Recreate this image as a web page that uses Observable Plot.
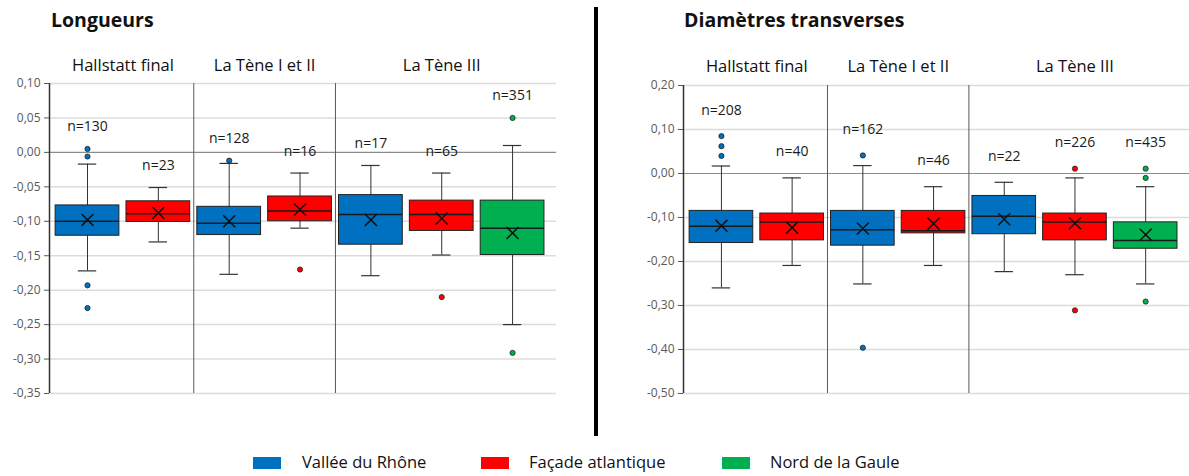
<!DOCTYPE html>
<html>
<head>
<meta charset="utf-8">
<script src="https://cdn.jsdelivr.net/npm/d3@7"></script>
<script src="https://cdn.jsdelivr.net/npm/@observablehq/plot@0.6"></script>
<style>
  html, body { margin: 0; padding: 0; background: #fff; }
  #page { position: relative; width: 1189px; height: 476px; font-family: "Open Sans", sans-serif; color: #111; overflow: hidden; }
  .panel { position: absolute; top: 0; }
  .title { position: absolute; font-weight: bold; font-size: 19.5px; line-height: 1; white-space: nowrap; }
  .divider { position: absolute; left: 594px; top: 7px; width: 3.5px; height: 429px; background: #000; }
  .sw { position: absolute; width: 28px; height: 12px; }
  .lt { position: absolute; font-size: 16.5px; line-height: 1; white-space: nowrap; }
</style>
</head>
<body>
<div id="page">
  <div class="title" style="left:51px; top:10px;">Longueurs</div>
  <div class="title" style="left:684px; top:10px;">Diamètres transverses</div>
  <div class="divider"></div>
  <div id="left" class="panel" style="left:0px;"></div>
  <div id="right" class="panel" style="left:600px;"></div>
  <div id="legend"></div>
</div>
<script>
// ---- shared categories ----
const groups = ["Hallstatt final", "La Tène I et II", "La Tène III"];
const regions = ["Vallée du Rhône", "Façade atlantique", "Nord de la Gaule"];
const regionColors = ["#0070C0", "#FF0000", "#00B050"];

// slot layout: which group / region each box belongs to
const slotGroup = [0, 0, 1, 1, 2, 2, 2];
const slotRegion = [0, 1, 0, 1, 0, 1, 2];

// ---- Longueurs ----
const lonTicks = [0.10, 0.05, 0.00, -0.05, -0.10, -0.15, -0.20, -0.25, -0.30, -0.35];
const lonN = [130, 23, 128, 16, 17, 65, 351];
const lonQ3 = [-0.077, -0.071, -0.079, -0.064, -0.062, -0.070, -0.070];
const lonQ1 = [-0.121, -0.101, -0.120, -0.100, -0.134, -0.114, -0.149];
const lonMedian = [-0.100, -0.089, -0.103, -0.085, -0.090, -0.090, -0.110];
const lonMean = [-0.098, -0.088, -0.100, -0.083, -0.098, -0.096, -0.117];
const lonHigh = [-0.017, -0.051, -0.016, -0.030, -0.019, -0.030, 0.010];
const lonLow = [-0.172, -0.130, -0.177, -0.110, -0.179, -0.149, -0.250];
const lonOutliers = [[0.005, -0.006, -0.193, -0.226], [], [-0.012], [-0.170], [], [-0.210], [0.050, -0.291]];

// ---- Diamètres transverses ----
const diaTicks = [0.20, 0.10, 0.00, -0.10, -0.20, -0.30, -0.40, -0.50];
const diaN = [208, 40, 162, 46, 22, 226, 435];
const diaQ3 = [-0.085, -0.091, -0.085, -0.085, -0.051, -0.091, -0.111];
const diaQ1 = [-0.158, -0.152, -0.164, -0.136, -0.138, -0.152, -0.171];
const diaMedian = [-0.120, -0.110, -0.128, -0.130, -0.097, -0.110, -0.152];
const diaMean = [-0.119, -0.123, -0.125, -0.114, -0.104, -0.113, -0.139];
const diaHigh = [0.017, -0.010, 0.018, -0.030, -0.020, -0.010, -0.030];
const diaLow = [-0.260, -0.209, -0.251, -0.209, -0.223, -0.230, -0.251];
const diaOutliers = [[0.085, 0.062, 0.040], [], [0.041, -0.396], [], [], [0.011, -0.311], [0.011, -0.010, -0.291]];

const fmt = d => (Math.abs(d) < 1e-9 ? 0 : d).toFixed(2).replace(".", ",");

function buildPanel(cfg) {
  const rows = slotGroup.map((g, i) => ({
    slot: i,
    group: groups[g],
    region: regions[slotRegion[i]],
    n: cfg.n[i],
    q1: cfg.q1[i], q3: cfg.q3[i], med: cfg.med[i], mean: cfg.mean[i],
    lo: cfg.lo[i], hi: cfg.hi[i],
    top: Math.max(cfg.hi[i], ...cfg.out[i])
  }));
  const outRows = rows.flatMap((r, i) => cfg.out[i].map(v => ({slot: r.slot, region: r.region, v})));
  const groupRows = groups.map(g => {
    const slots = rows.filter(r => r.group === g).map(r => r.slot + 0.5);
    return {label: g, x: d3.mean(slots)};
  });
  const seps = d3.range(1, slotGroup.length).filter(i => slotGroup[i] !== slotGroup[i - 1]);
  const bw = 0.45, cap = 0.13;
  const domain = [d3.min(cfg.ticks), d3.max(cfg.ticks)];
  return Plot.plot({
    width: cfg.width,
    height: 400,
    marginTop: cfg.top,
    marginBottom: 400 - cfg.bottom,
    marginLeft: cfg.left,
    marginRight: cfg.width - cfg.right,
    style: {fontFamily: "Open Sans", fontSize: "12px", color: "#595959", background: "transparent"},
    x: {domain: [-0.0365, 7.12], axis: null},
    y: {domain, ticks: cfg.ticks, tickFormat: fmt, tickSize: 5, label: null},
    color: {domain: regions, range: regionColors},
    marks: [
      Plot.ruleY(cfg.ticks.filter(t => t !== 0), {stroke: "#dcdcdc", strokeWidth: 1.5}),
      Plot.ruleY([0], {stroke: "#8c8c8c", strokeWidth: 1.2}),
      Plot.ruleX(seps, {stroke: "#5a5a5a", strokeWidth: 1}),
      Plot.ruleX([-0.0365], {stroke: "#333", strokeWidth: 1.5}),
      Plot.ruleX(rows, {x: d => d.slot + 0.5, y1: "lo", y2: "hi", stroke: "#333", strokeWidth: 1}),
      Plot.ruleY(rows, {y: "hi", x1: d => d.slot + 0.5 - cap, x2: d => d.slot + 0.5 + cap, stroke: "#333", strokeWidth: 1.2}),
      Plot.ruleY(rows, {y: "lo", x1: d => d.slot + 0.5 - cap, x2: d => d.slot + 0.5 + cap, stroke: "#333", strokeWidth: 1.2}),
      Plot.rect(rows, {x1: d => d.slot + 0.5 - bw, x2: d => d.slot + 0.5 + bw, y1: "q1", y2: "q3", fill: "region", stroke: "#222", strokeWidth: 1}),
      Plot.ruleY(rows, {y: "med", x1: d => d.slot + 0.5 - bw, x2: d => d.slot + 0.5 + bw, stroke: "#1a1a1a", strokeWidth: 1.5}),
      Plot.dot(rows, {x: d => d.slot + 0.5, y: "mean", symbol: "times", r: 5.5, stroke: "#111", strokeWidth: 1.5}),
      Plot.dot(outRows, {x: d => d.slot + 0.5, y: "v", r: 2.6, fill: "region", stroke: "#222", strokeWidth: 0.8}),
      Plot.text(rows, {x: d => d.slot + 0.5, y: "top", text: d => "n=" + d.n, dy: cfg.ndy, fontSize: 14, fill: "#1a1a1a"}),
      Plot.text(groupRows, {x: "x", text: "label", frameAnchor: "top", dy: cfg.gdy, fontSize: 16.5, fill: "#111"})
    ]
  });
}

document.getElementById("left").appendChild(buildPanel({
  width: 590, left: 49, right: 556, top: 83, bottom: 393, ndy: -22, gdy: -24,
  ticks: lonTicks, n: lonN, q1: lonQ1, q3: lonQ3, med: lonMedian, mean: lonMean,
  lo: lonLow, hi: lonHigh, out: lonOutliers
}));
document.getElementById("right").appendChild(buildPanel({
  width: 589, left: 83, right: 589, top: 85, bottom: 393, ndy: -26, gdy: -25,
  ticks: diaTicks, n: diaN, q1: diaQ1, q3: diaQ3, med: diaMedian, mean: diaMean,
  lo: diaLow, hi: diaHigh, out: diaOutliers
}));

// legend
const legendX = [253, 481, 722];
const legendTextX = [302, 529, 770];
const leg = document.getElementById("legend");
regions.forEach((r, i) => {
  const s = document.createElement("div");
  s.className = "sw";
  s.style.left = legendX[i] + "px";
  s.style.top = "457px";
  s.style.background = regionColors[i];
  leg.appendChild(s);
  const t = document.createElement("div");
  t.className = "lt";
  t.style.left = legendTextX[i] + "px";
  t.style.top = "454px";
  t.textContent = r;
  leg.appendChild(t);
});
</script>
</body>
</html>
